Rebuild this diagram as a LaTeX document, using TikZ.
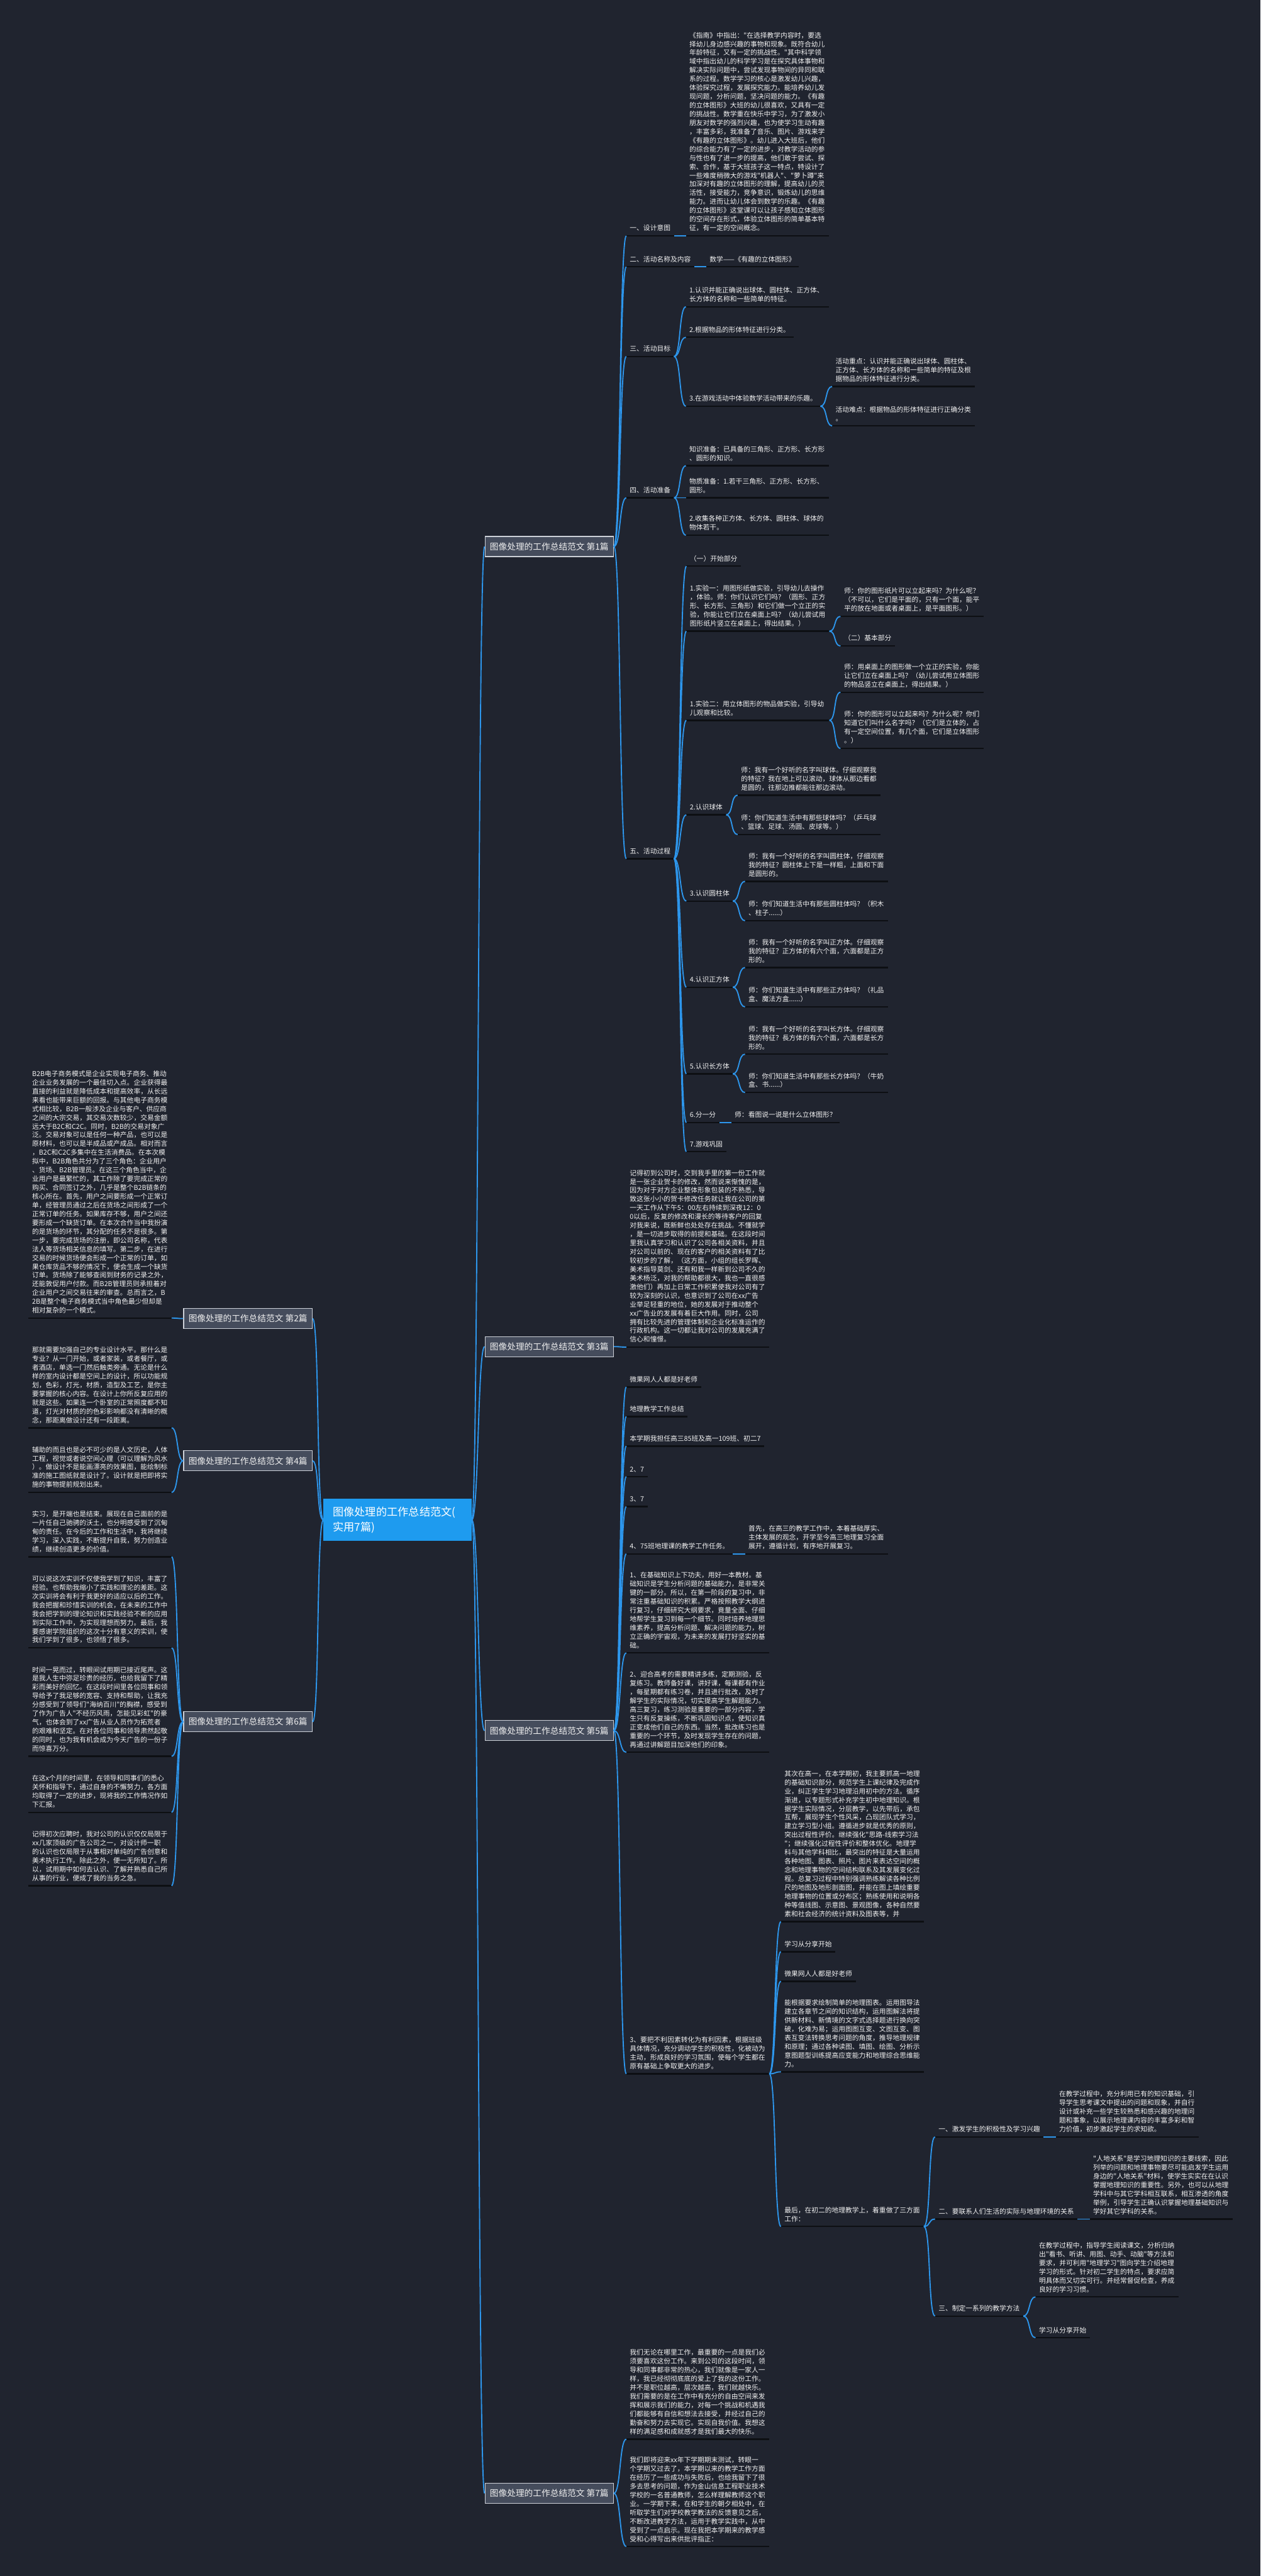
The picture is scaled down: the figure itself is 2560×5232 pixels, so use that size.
\documentclass[tikz,border=0pt]{standalone}
\usepackage{fontspec}
\setmainfont{Noto Sans CJK SC}[Ligatures=TeXOff]
\usepackage{tikz}
\usetikzlibrary{positioning}
\hyphenpenalty=10000
\exhyphenpenalty=10000
\definecolor{bgc}{HTML}{20242F}
\definecolor{lnk}{HTML}{2D96EC}
\definecolor{ulc}{HTML}{0D0F13}
\definecolor{txc}{HTML}{F2F2F2}
\definecolor{boxf}{HTML}{454C5C}
\definecolor{boxd}{HTML}{CDD1D8}
\definecolor{rootf}{HTML}{1E9BEF}
\tikzset{
  lab/.style={anchor=south west, inner xsep=7pt, inner ysep=9pt, text=txc, font=\fontsize{13.75pt}{17.8pt}\selectfont,
    append after command={(\tikzlastnode.south west) edge[draw=ulc, line width=3pt] (\tikzlastnode.south east)}},
  para/.style={lab, text width=276pt, align=left},
  box/.style={draw=boxd, fill=boxf, line width=1.5pt, text=white!94!black, font=\fontsize{17.5pt}{21pt}\selectfont,
    minimum width=261pt, minimum height=41pt, inner sep=0pt},
  rootbox/.style={fill=rootf, text=white, font=\fontsize{22pt}{30pt}\selectfont, minimum width=301pt, minimum height=85pt,
    text width=263pt, align=left, inner sep=0pt},
  rl/.style={draw=lnk, line width=2.4pt, to path={.. controls +(14,0) and +(-14,0) .. (\tikztotarget)}},
  ll/.style={draw=lnk, line width=2.4pt, to path={.. controls +(-14,0) and +(14,0) .. (\tikztotarget)}},
}
\begin{document}
\begin{tikzpicture}[x=1pt, y=-1pt]
  \useasboundingbox (0,0) rectangle (2560,5232);
  \fill[bgc] (0,0) rectangle (2560,5232);

  \node[rootbox] (root) at (807.5,3087) {图像处理的工作总结范文(\\实用7篇)};
  \node[box] (b1) at (1115.5,1110) {图像处理的工作总结范文 第1篇};
  \node[box] (b3) at (1115.5,2735) {图像处理的工作总结范文 第3篇};
  \node[box] (b5) at (1115.5,3515) {图像处理的工作总结范文 第5篇};
  \node[box] (b7) at (1115.5,5064) {图像处理的工作总结范文 第7篇};
  \node[box] (b2) at (503.5,2678) {图像处理的工作总结范文 第2篇};
  \node[box] (b4) at (503.5,2967) {图像处理的工作总结范文 第4篇};
  \node[box] (b6) at (503.5,3497) {图像处理的工作总结范文 第6篇};

  \node[lab] (s1) at (1272,479) {一、设计意图};
  \node[para] (s1p) at (1393,479) {《指南》中指出："在选择教学内容时，要选\\择幼儿身边感兴趣的事物和现象。既符合幼儿\\年龄特征，又有一定的挑战性。"其中科学领\\域中指出幼儿的科学学习是在探究具体事物和\\解决实际问题中，尝试发现事物间的异同和联\\系的过程。数学学习的核心是激发幼儿兴趣，\\体验探究过程，发展探究能力。能培养幼儿发\\现问题，分析问题，坚决问题的能力。《有趣\\的立体图形》大班的幼儿很喜欢，又具有一定\\的挑战性。数学重在快乐中学习，为了激发小\\朋友对数学的强烈兴趣，也为使学习生动有趣\\，丰富多彩，我准备了音乐、图片、游戏来学\\《有趣的立体图形》。幼儿进入大班后，他们\\的综合能力有了一定的进步，对教学活动的参\\与性也有了进一步的提高，他们敢于尝试、探\\索、合作，基于大班孩子这一特点，特设计了\\一些难度稍微大的游戏"机器人"、"萝卜蹲"来\\加深对有趣的立体图形的理解，提高幼儿的灵\\活性，接受能力，竞争意识，锻炼幼儿的思维\\能力。进而让幼儿体会到数学的乐趣。《有趣\\的立体图形》这堂课可以让孩子感知立体图形\\的空间存在形式，体验立体图形的简单基本特\\征，有一定的空间概念。};
  \node[lab] (s2) at (1272,542) {二、活动名称及内容};
  \node[lab] (s2p) at (1434,542) {数学——《有趣的立体图形》};
  \node[lab] (s3) at (1272,724) {三、活动目标};
  \node[para] (s3a) at (1393,623) {1.认识并能正确说出球体、圆柱体、正方体、\\长方体的名称和一些简单的特征。};
  \node[lab] (s3b) at (1393,685) {2.根据物品的形体特征进行分类。};
  \node[lab] (s3c) at (1393,825) {3.在游戏活动中体验数学活动带来的乐趣。};
  \node[para] (s3c1) at (1690,785) {活动重点：认识并能正确说出球体、圆柱体、\\正方体、长方体的名称和一些简单的特征及根\\据物品的形体特征进行分类。};
  \node[para] (s3c2) at (1690,865) {活动难点：根据物品的形体特征进行正确分类\\。};
  \node[lab] (s4) at (1272,1011) {四、活动准备};
  \node[para] (s4a) at (1393,946) {知识准备：已具备的三角形、正方形、长方形\\、圆形的知识。};
  \node[para] (s4b) at (1393,1011) {物质准备：1.若干三角形、正方形、长方形、\\圆形。};
  \node[para] (s4c) at (1393,1087) {2.收集各种正方体、长方体、圆柱体、球体的\\物体若干。};
  \node[lab] (s5) at (1272,1744) {五、活动过程};
  \node[lab] (s5a) at (1394,1150) {（一）开始部分};
  \node[para] (s5b) at (1394,1282) {1.实验一：用图形纸做实验，引导幼儿去操作\\，体验。师：你们认识它们吗？（圆形、正方\\形、长方形、三角形）和它们做一个立正的实\\验，你能让它们立在桌面上吗？（幼儿尝试用\\图形纸片竖立在桌面上，得出结果。）};
  \node[para] (s5b1) at (1707,1252) {师：你的图形纸片可以立起来吗？为什么呢？\\（不可以，它们是平面的，只有一个面，能平\\平的放在地面或者桌面上，是平面图形。）};
  \node[lab] (s5b2) at (1707,1312) {（二）基本部分};
  \node[para] (s5c) at (1394,1463) {1.实验二：用立体图形的物品做实验，引导幼\\儿观察和比较。};
  \node[para] (s5c1) at (1707,1406) {师：用桌面上的图形做一个立正的实验，你能\\让它们立在桌面上吗？（幼儿尝试用立体图形\\的物品竖立在桌面上，得出结果。）};
  \node[para] (s5c2) at (1707,1520) {师：你的图形可以立起来吗？为什么呢？你们\\知道它们叫什么名字吗？（它们是立体的，占\\有一定空间位置，有几个面，它们是立体图形\\。）};
  \node[lab] (s5d) at (1394,1655) {2.认识球体};
  \node[para] (s5d1) at (1498,1615) {师：我有一个好听的名字叫球体。仔细观察我\\的特征？我在地上可以滚动，球体从那边看都\\是圆的，往那边推都能往那边滚动。};
  \node[para] (s5d2) at (1498,1695) {师：你们知道生活中有那些球体吗？（乒乓球\\、篮球、足球、汤圆、皮球等。）};
  \node[lab] (s5e) at (1394,1830) {3.认识圆柱体};
  \node[para] (s5e1) at (1513,1790) {师：我有一个好听的名字叫圆柱体，仔细观察\\我的特征？圆柱体上下是一样粗，上面和下面\\是圆形的。};
  \node[para] (s5e2) at (1513,1870) {师：你们知道生活中有那些圆柱体吗？（积木\\、柱子......）};
  \node[lab] (s5f) at (1394,2005) {4.认识正方体};
  \node[para] (s5f1) at (1513,1965) {师：我有一个好听的名字叫正方体。仔细观察\\我的特征？正方体的有六个面，六面都是正方\\形的。};
  \node[para] (s5f2) at (1513,2045) {师：你们知道生活中有那些正方体吗？（礼品\\盒、魔法方盒......）};
  \node[lab] (s5g) at (1394,2181) {5.认识长方体};
  \node[para] (s5g1) at (1513,2141) {师：我有一个好听的名字叫长方体。仔细观察\\我的特征？長方体的有六个面，六面都是长方\\形的。};
  \node[para] (s5g2) at (1513,2219) {师：你们知道生活中有那些长方体吗？（牛奶\\盒、书......）};
  \node[lab] (s5h) at (1394,2280) {6.分一分};
  \node[lab] (s5h1) at (1485,2280) {师：看图说一说是什么立体图形？};
  \node[lab] (s5i) at (1394,2339) {7.游戏巩固};

  \node[para] (t3) at (1272,2736) {记得初到公司时，交到我手里的第一份工作就\\是一张企业贺卡的修改，然而说来惭愧的是，\\因为对于对方企业整体形象包装的不熟悉，导\\致这张小小的贺卡修改任务就让我在公司的第\\一天工作从下午5：00左右持续到深夜12：0\\0以后，反复的修改和漫长的等待客户的回复\\对我来说，既新鲜也处处存在挑战。不懂就学\\，是一切进步取得的前提和基础。在这段时间\\里我认真学习和认识了公司各相关资料，并且\\对公司以前的、现在的客户的相关资料有了比\\较初步的了解，（这方面，小组的组长罗晖、\\美术指导莫剑、还有和我一样新到公司不久的\\美术杨泛，对我的帮助都很大，我也一直很感\\激他们）再加上日常工作积累使我对公司有了\\较为深刻的认识，也意识到了公司在xx广告\\业举足轻重的地位，她的发展对于推动整个\\xx广告业的发展有着巨大作用。同时，公司\\拥有比较先进的管理体制和企业化标准运作的\\行政机构。这一切都让我对公司的发展充满了\\信心和憧憬。};

  \node[lab] (f1) at (1272,2817) {微果网人人都是好老师};
  \node[lab] (f2) at (1272,2877) {地理教学工作总结};
  \node[lab] (f3) at (1272,2937) {本学期我担任高三85班及高一109班、初二7};
  \node[lab] (f4) at (1272,2999) {2、7};
  \node[lab] (f5) at (1272,3060) {3、7};
  \node[lab] (f6) at (1272,3156) {4、75班地理课的教学工作任务。};
  \node[para] (f6a) at (1513,3156) {首先，在高三的教学工作中，本着基础厚实、\\主体发展的观念，开学至今高三地理复习全面\\展开，遵循计划，有序地开展复习。};
  \node[para] (f7) at (1272,3357) {1、在基础知识上下功夫，用好一本教材。基\\础知识是学生分析问题的基础能力，是非常关\\键的一部分。所以，在第一阶段的复习中，非\\常注重基础知识的积累。严格按照教学大纲进\\行复习，仔细研究大纲要求，竟量全面、仔细\\地帮学生复习到每一个细节。同时培养地理思\\维素养，提高分析问题、解决问题的能力，树\\立正确的宇宙观，为未来的发展打好坚实的基\\础。};
  \node[para] (f8) at (1272,3559) {2、迎合高考的需要精讲多练，定期测验，反\\复练习。教师备好课，讲好课，每课都有作业\\，每星期都有练习卷，并且进行批改，及时了\\解学生的实际情况，切实提高学生解题能力。\\高三复习，练习测验是重要的一部分内容，学\\生只有反复操练，不断巩固知识点，使知识真\\正变成他们自己的东西。当然，批改练习也是\\重要的一个环节，及时发现学生存在的问题，\\再通过讲解题目加深他们的印象。};
  \node[para] (f9) at (1272,4212) {3、要把不利因素转化为有利因素，根据班级\\具体情况，充分调动学生的积极性，化被动为\\主动，形成良好的学习氛围，使每个学生都在\\原有基础上争取更大的进步。};
  \node[para] (f9a) at (1586,3903) {其次在高一，在本学期初，我主要抓高一地理\\的基础知识部分，规范学生上课纪律及完成作\\业，纠正学生学习地理沿用初中的方法。循序\\渐进，以专题形式补充学生初中地理知识。根\\据学生实际情况，分层教学，以先带后，承包\\互帮，展现学生个性风采，凸现团队式学习，\\建立学习型小组。遵循进步就是优秀的原则，\\突出过程性评价。继续强化"思路-线索学习法\\"；继续强化过程性评价和整体优化。地理学\\科与其他学科相比，最突出的特征是大量运用\\各种地图、图表、照片、图片来表达空间的概\\念和地理事物的空间结构联系及其发展变化过\\程。总复习过程中特别强调熟练解读各种比例\\尺的地图及地形剖面图，并能在图上填绘重要\\地理事物的位置或分布区；熟练使用和说明各\\种等值线图、示意图、景观图像，各种自然要\\素和社会经济的统计资料及图表等，并};
  \node[lab] (f9b) at (1586,3964) {学习从分享开始};
  \node[lab] (f9c) at (1586,4024) {微果网人人都是好老师};
  \node[para] (f9d) at (1586,4208) {能根据要求绘制简单的地理图表。运用图导法\\建立各章节之间的知识结构，运用图解法将提\\供新材料、新情境的文字式选择题进行换向突\\破，化难为易；运用图图互变、文图互变、图\\表互变法转换思考问题的角度，推导地理规律\\和原理；通过各种读图、填图、绘图、分析示\\意图题型训练提高应变能力和地理综合思维能\\力。};
  \node[para] (f9e) at (1586,4522) {最后，在初二的地理教学上，着重做了三方面\\工作：};
  \node[lab] (g1) at (1899,4340) {一、激发学生的积极性及学习兴趣};
  \node[para] (g1a) at (2144,4340) {在教学过程中，充分利用已有的知识基础，引\\导学生思考课文中提出的问题和现象，并自行\\设计或补充一些学生较熟悉和感兴趣的地理问\\题和事象，以展示地理课内容的丰富多彩和智\\力价值，初步激起学生的求知欲。};
  \node[lab] (g2) at (1899,4507) {二、要联系人们生活的实际与地理环境的关系};
  \node[para] (g2a) at (2213,4507) {"人地关系"是学习地理知识的主要线索，因此\\列举的问题和地理事物要尽可能启发学生运用\\身边的"人地关系"材料，使学生实实在在认识\\掌握地理知识的重要性。另外，也可以从地理\\学科中与其它学科相互联系，相互渗透的角度\\举例，引导学生正确认识掌握地理基础知识与\\学好其它学科的关系。};
  \node[lab] (g3) at (1899,4704) {三、制定一系列的教学方法};
  \node[para] (g3a) at (2103,4665) {在教学过程中，指导学生阅读课文，分析归纳\\出"看书、听讲、用图、动手、动脑"等方法和\\要求，并可利用"地理学习"图向学生介绍地理\\学习的形式。针对初二学生的特点，要求应简\\明具体而又切实可行。并经常督促检查，养成\\良好的学习习惯。};
  \node[lab] (g3b) at (2103,4748) {学习从分享开始};

  \node[para] (h1) at (1272,4954) {我们无论在哪里工作，最重要的一点是我们必\\须要喜欢这份工作。来到公司的这段时间，领\\导和同事都非常的热心，我们就像是一家人一\\样，我已经彻彻底底的爱上了我的这份工作。\\并不是职位越高，层次越高，我们就越快乐。\\我们需要的是在工作中有充分的自由空间来发\\挥和展示我们的能力，对每一个挑战和机遇我\\们都能够有自信和想法去接受，并经过自己的\\勤奋和努力去实现它。实现自我价值。我想这\\样的满足感和成就感才是我们最大的快乐。};
  \node[para] (h2) at (1272,5172) {我们即将迎来xx年下学期期末测试，转眼一\\个学期又过去了，本学期以来的教学工作方面\\在经历了一些成功与失败后，也给我留下了很\\多去思考的问题，作为金山信息工程职业技术\\学校的一名普通教师，怎么样理解教师这个职\\业。一学期下来，在和学生的朝夕相处中，在\\听取学生们对学校教学教法的反馈意见之后，\\不断改进教学方法，运用于教学实践中，从中\\受到了一点启示。现在我把本学期来的教学感\\受和心得写出来供批评指正：};

  \node[para] (l2) at (58,2677) {B2B电子商务模式是企业实现电子商务、推动\\企业业务发展的一个最佳切入点。企业获得最\\直接的利益就是降低成本和提高效率，从长远\\来看也能带来巨额的回报。与其他电子商务模\\式相比较，B2B一般涉及企业与客户、供应商\\之间的大宗交易，其交易次数较少，交易金额\\远大于B2C和C2C。同时，B2B的交易对象广\\泛。交易对象可以是任何一种产品，也可以是\\原材料，也可以是半成品或产成品。相对而言\\，B2C和C2C多集中在生活消费品。在本次模\\拟中，B2B角色共分为了三个角色：企业用户\\、货场、B2B管理员。在这三个角色当中，企\\业用户是最繁忙的，其工作除了要完成正常的\\购买、合同签订之外，几乎是整个B2B链条的\\核心所在。首先，用户之间要形成一个正常订\\单，经管理员通过之后在货场之间形成了一个\\正常订单的任务。如果库存不够，用户之间还\\要形成一个缺货订单。在本次合作当中我扮演\\的是货场的环节，其分配的任务不是很多。第\\一步，要完成货场的注册，即公司名称，代表\\法人等货场相关信息的填写。第二步，在进行\\交易的时候货场便会形成一个正常的订单，如\\果仓库货品不够的情况下，便会生成一个缺货\\订单。货场除了能够查阅到财务的记录之外，\\还能敦促用户付款。而B2B管理员则承担着对\\企业用户之间交易往来的审查。总而言之，B\\2B是整个电子商务模式当中角色最少但却是\\相对复杂的一个模式。};
  \node[para] (l4a) at (58,2900) {那就需要加强自己的专业设计水平。那什么是\\专业？从一门开始，或者家装，或者餐厅，或\\者酒店，单选一门然后触类旁通。无论是什么\\样的室内设计都是空间上的设计，所以功能规\\划，色彩，灯光，材质，造型及工艺，是你主\\要掌握的核心内容。在设计上你所反复应用的\\就是这些。如果连一个卧室的正常照度都不知\\道，灯光对材质的的色彩影响都没有清晰的概\\念，那距离做设计还有一段距离。};
  \node[para] (l4b) at (58,3031) {辅助的而且也是必不可少的是人文历史，人体\\工程，视觉或者说空间心理（可以理解为风水\\）。做设计不是能画漂亮的效果图，能绘制标\\准的施工图纸就是设计了。设计就是把即将实\\施的事物提前规划出来。};
  \node[para] (l6a) at (58,3162) {实习，是开端也是结束。展现在自己面前的是\\一片任自己驰骋的沃土，也分明感受到了沉甸\\甸的责任。在今后的工作和生活中，我将继续\\学习，深入实践，不断提升自我，努力创造业\\绩，继续创造更多的价值。};
  \node[para] (l6b) at (58,3347) {可以说这次实训不仅使我学到了知识，丰富了\\经验。也帮助我缩小了实践和理论的差距。这\\次实训将会有利于我更好的适应以后的工作。\\我会把握和珍惜实训的机会，在未来的工作中\\我会把学到的理论知识和实践经验不断的应用\\到实际工作中，为实现理想而努力。最后，我\\要感谢学院组织的这次十分有意义的实训，使\\我们学到了很多，也领悟了很多。};
  \node[para] (l6c) at (58,3567) {时间一晃而过，转眼间试用期已接近尾声。这\\是我人生中弥足珍贵的经历，也给我留下了精\\彩而美好的回忆。在这段时间里各位同事和领\\导给予了我足够的宽容、支持和帮助，让我充\\分感受到了领导们"海纳百川"的胸襟，感受到\\了作为广告人"不经历风雨，怎能见彩虹"的豪\\气，也体会到了xx广告从业人员作为拓荒者\\的艰难和坚定。在对各位同事和领导肃然起敬\\的同时，也为我有机会成为今天广告的一份子\\而惊喜万分。};
  \node[para] (l6d) at (58,3681) {在这x个月的时间里，在领导和同事们的悉心\\关怀和指导下，通过自身的不懈努力，各方面\\均取得了一定的进步，现将我的工作情况作如\\下汇报。};
  \node[para] (l6e) at (58,3830) {记得初次应聘时，我对公司的认识仅仅局限于\\xx几家顶级的广告公司之一，对设计师一职\\的认识也仅局限于从事相对单纯的广告创意和\\美术执行工作。除此之外，便一无所知了。所\\以，试用期中如何去认识、了解并熟悉自己所\\从事的行业，便成了我的当务之急。};

  \draw[rl] (root.east) to (b1.west);  \draw[rl] (root.east) to (b3.west);
  \draw[rl] (root.east) to (b5.west);  \draw[rl] (root.east) to (b7.west);
  \draw[ll] (root.west) to (b2.east);  \draw[ll] (root.west) to (b4.east);  \draw[ll] (root.west) to (b6.east);

  \draw[rl] (b1.east) to (s1.south west);  \draw[rl] (b1.east) to (s2.south west);  \draw[rl] (b1.east) to (s3.south west);
  \draw[rl] (b1.east) to (s4.south west);  \draw[rl] (b1.east) to (s5.south west);
  \draw[rl] (s1.south east) to (s1p.south west);  \draw[rl] (s2.south east) to (s2p.south west);
  \draw[rl] (s3.south east) to (s3a.south west);  \draw[rl] (s3.south east) to (s3b.south west);  \draw[rl] (s3.south east) to (s3c.south west);
  \draw[rl] (s3c.south east) to (s3c1.south west);  \draw[rl] (s3c.south east) to (s3c2.south west);
  \draw[rl] (s4.south east) to (s4a.south west);  \draw[rl] (s4.south east) to (s4b.south west);  \draw[rl] (s4.south east) to (s4c.south west);
  \foreach \k in {s5a,s5b,s5c,s5d,s5e,s5f,s5g,s5h,s5i} {\draw[rl] (s5.south east) to (\k.south west);}
  \draw[rl] (s5b.south east) to (s5b1.south west);  \draw[rl] (s5b.south east) to (s5b2.south west);
  \draw[rl] (s5c.south east) to (s5c1.south west);  \draw[rl] (s5c.south east) to (s5c2.south west);
  \draw[rl] (s5d.south east) to (s5d1.south west);  \draw[rl] (s5d.south east) to (s5d2.south west);
  \draw[rl] (s5e.south east) to (s5e1.south west);  \draw[rl] (s5e.south east) to (s5e2.south west);
  \draw[rl] (s5f.south east) to (s5f1.south west);  \draw[rl] (s5f.south east) to (s5f2.south west);
  \draw[rl] (s5g.south east) to (s5g1.south west);  \draw[rl] (s5g.south east) to (s5g2.south west);
  \draw[rl] (s5h.south east) to (s5h1.south west);

  \draw[rl] (b3.east) to (t3.south west);

  \foreach \k in {f1,f2,f3,f4,f5,f6,f7,f8,f9} {\draw[rl] (b5.east) to (\k.south west);}
  \draw[rl] (f6.south east) to (f6a.south west);
  \foreach \k in {f9a,f9b,f9c,f9d,f9e} {\draw[rl] (f9.south east) to (\k.south west);}
  \foreach \k in {g1,g2,g3} {\draw[rl] (f9e.south east) to (\k.south west);}
  \draw[rl] (g1.south east) to (g1a.south west);  \draw[rl] (g2.south east) to (g2a.south west);
  \draw[rl] (g3.south east) to (g3a.south west);  \draw[rl] (g3.south east) to (g3b.south west);

  \draw[rl] (b7.east) to (h1.south west);  \draw[rl] (b7.east) to (h2.south west);

  \draw[ll] (b2.west) to (l2.south east);
  \draw[ll] (b4.west) to (l4a.south east);  \draw[ll] (b4.west) to (l4b.south east);
  \foreach \k in {l6a,l6b,l6c,l6d,l6e} {\draw[ll] (b6.west) to (\k.south east);}
\end{tikzpicture}
\end{document}
